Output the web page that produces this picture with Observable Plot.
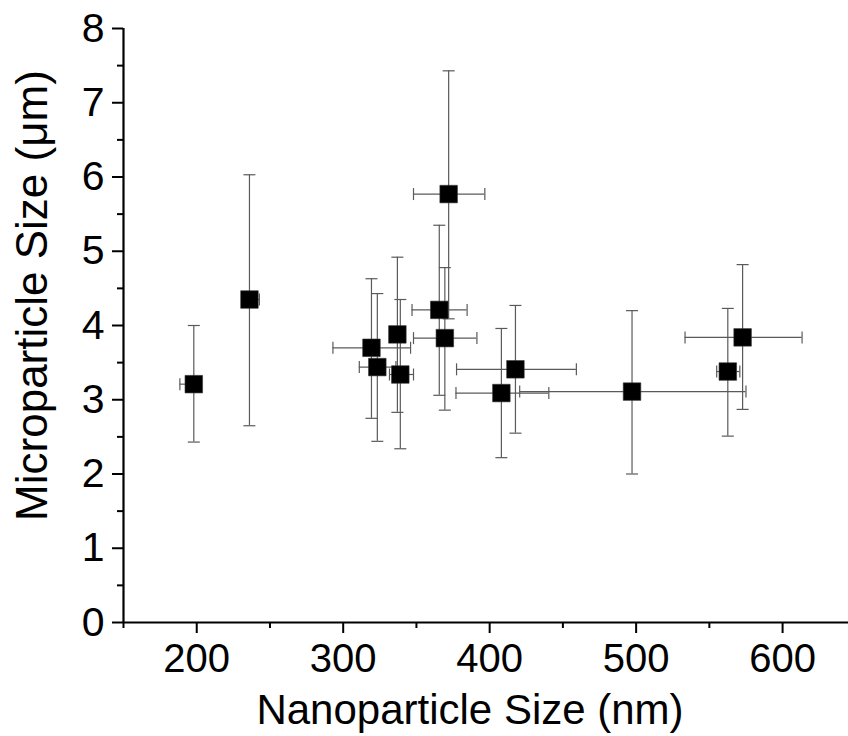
<!DOCTYPE html>
<html>
<head>
<meta charset="utf-8">
<script src="https://cdn.jsdelivr.net/npm/d3@7"></script>
<script src="https://cdn.jsdelivr.net/npm/@observablehq/plot@0.6"></script>
<style>
  html, body { margin: 0; padding: 0; background: #fff; }
  #chart { width: 848px; height: 736px; }
</style>
</head>
<body>
<div id="chart"></div>
<script>
// Nanoparticle size (nm) and microparticle size (µm), with error bar extents
const nanoSize  = [198, 236, 319.3, 323.3, 337, 339, 365.6, 369.4, 372, 408, 417.6, 497.2, 562.6, 572.7];
const nanoLow   = [188.5, 230.8, 293, 311, 335, 331.6, 347, 348, 348, 377, 377.4, 420.5, 555, 533.4];
const nanoHigh  = [198, 242.8, 346, 336, 339, 348, 384.6, 391.3, 396.7, 440.4, 459.2, 575, 570.8, 613.3];
const microSize = [3.21, 4.35, 3.70, 3.44, 3.88, 3.34, 4.21, 3.83, 5.77, 3.09, 3.41, 3.11, 3.38, 3.84];
const microLow  = [2.43, 2.65, 2.75, 2.44, 2.83, 2.34, 3.06, 2.86, 4.09, 2.22, 2.55, 2.00, 2.51, 2.87];
const microHigh = [4.00, 6.03, 4.63, 4.43, 4.92, 4.35, 5.35, 4.78, 7.43, 3.96, 4.27, 4.20, 4.23, 4.82];

const xMajorTicks = [200, 300, 400, 500, 600];
const xMinorTicks = [150, 250, 350, 450, 550];
const yMajorTicks = [0, 1, 2, 3, 4, 5, 6, 7, 8];
const yMinorTicks = [0.5, 1.5, 2.5, 3.5, 4.5, 5.5, 6.5, 7.5];

const xTitle = "Nanoparticle Size (nm)";
const yTitle = "Microparticle Size (\u03bcm)";

const rows = nanoSize.map((v, i) => ({
  x: v, y: microSize[i],
  xLo: nanoLow[i], xHi: nanoHigh[i],
  yLo: microLow[i], yHi: microHigh[i]
}));

const hCap = { draw(ctx) { ctx.moveTo(-6, 0); ctx.lineTo(6, 0); } };
const vCap = { draw(ctx) { ctx.moveTo(0, -6); ctx.lineTo(0, 6); } };
const barColor = "#5a5a5a";
const font = "'Liberation Sans', Arial, Helvetica, sans-serif";

const chart = Plot.plot({
  width: 848,
  height: 736,
  marginLeft: 123,
  marginRight: 0,
  marginTop: 28,
  marginBottom: 114,
  style: { fontFamily: font, color: "black", background: "white", overflow: "visible" },
  x: { domain: [150, 645] },
  y: { domain: [0, 8] },
  marks: [
    // error bars
    Plot.ruleX(rows, { x: "x", y1: "yLo", y2: "yHi", stroke: barColor, strokeWidth: 1.2 }),
    Plot.ruleY(rows, { y: "y", x1: "xLo", x2: "xHi", stroke: barColor, strokeWidth: 1.2 }),
    Plot.dot(rows, { x: "x", y: "yLo", symbol: hCap, fill: "none", stroke: barColor, strokeWidth: 1.2 }),
    Plot.dot(rows, { x: "x", y: "yHi", symbol: hCap, fill: "none", stroke: barColor, strokeWidth: 1.2 }),
    Plot.dot(rows, { x: "xLo", y: "y", symbol: vCap, fill: "none", stroke: barColor, strokeWidth: 1.2 }),
    Plot.dot(rows, { x: "xHi", y: "y", symbol: vCap, fill: "none", stroke: barColor, strokeWidth: 1.2 }),
    // points
    Plot.dot(rows, { x: "x", y: "y", symbol: "square", r: 9.9, fill: "black", stroke: "#333", strokeWidth: 0.6 }),
    // axes
    Plot.axisX({ ticks: xMajorTicks, tickSize: 11, tickPadding: 10, fontSize: 40, strokeWidth: 2, label: null }),
    Plot.axisX({ ticks: xMinorTicks, tickSize: 6, strokeWidth: 2, tickFormat: () => "", label: null }),
    Plot.axisY({ ticks: yMajorTicks, tickSize: 11, tickPadding: 8, fontSize: 41, strokeWidth: 2, label: null }),
    Plot.axisY({ ticks: yMinorTicks, tickSize: 6, strokeWidth: 2, tickFormat: () => "", label: null }),
    Plot.ruleY([0], { strokeWidth: 2.2 }),
    Plot.ruleX([150], { strokeWidth: 2.2 }),
    // axis titles
    Plot.text([xTitle], { frameAnchor: "bottom", text: d => d, fontSize: 42, textAnchor: "middle", lineAnchor: "bottom", dx: -16, dy: 101, fill: "black" }),
    Plot.text([yTitle], { frameAnchor: "left", text: d => d, fontSize: 44, textAnchor: "middle", lineAnchor: "bottom", rotate: -90, dx: -77, dy: -30, fill: "black" })
  ]
});

document.getElementById("chart").appendChild(chart);
</script>
</body>
</html>
